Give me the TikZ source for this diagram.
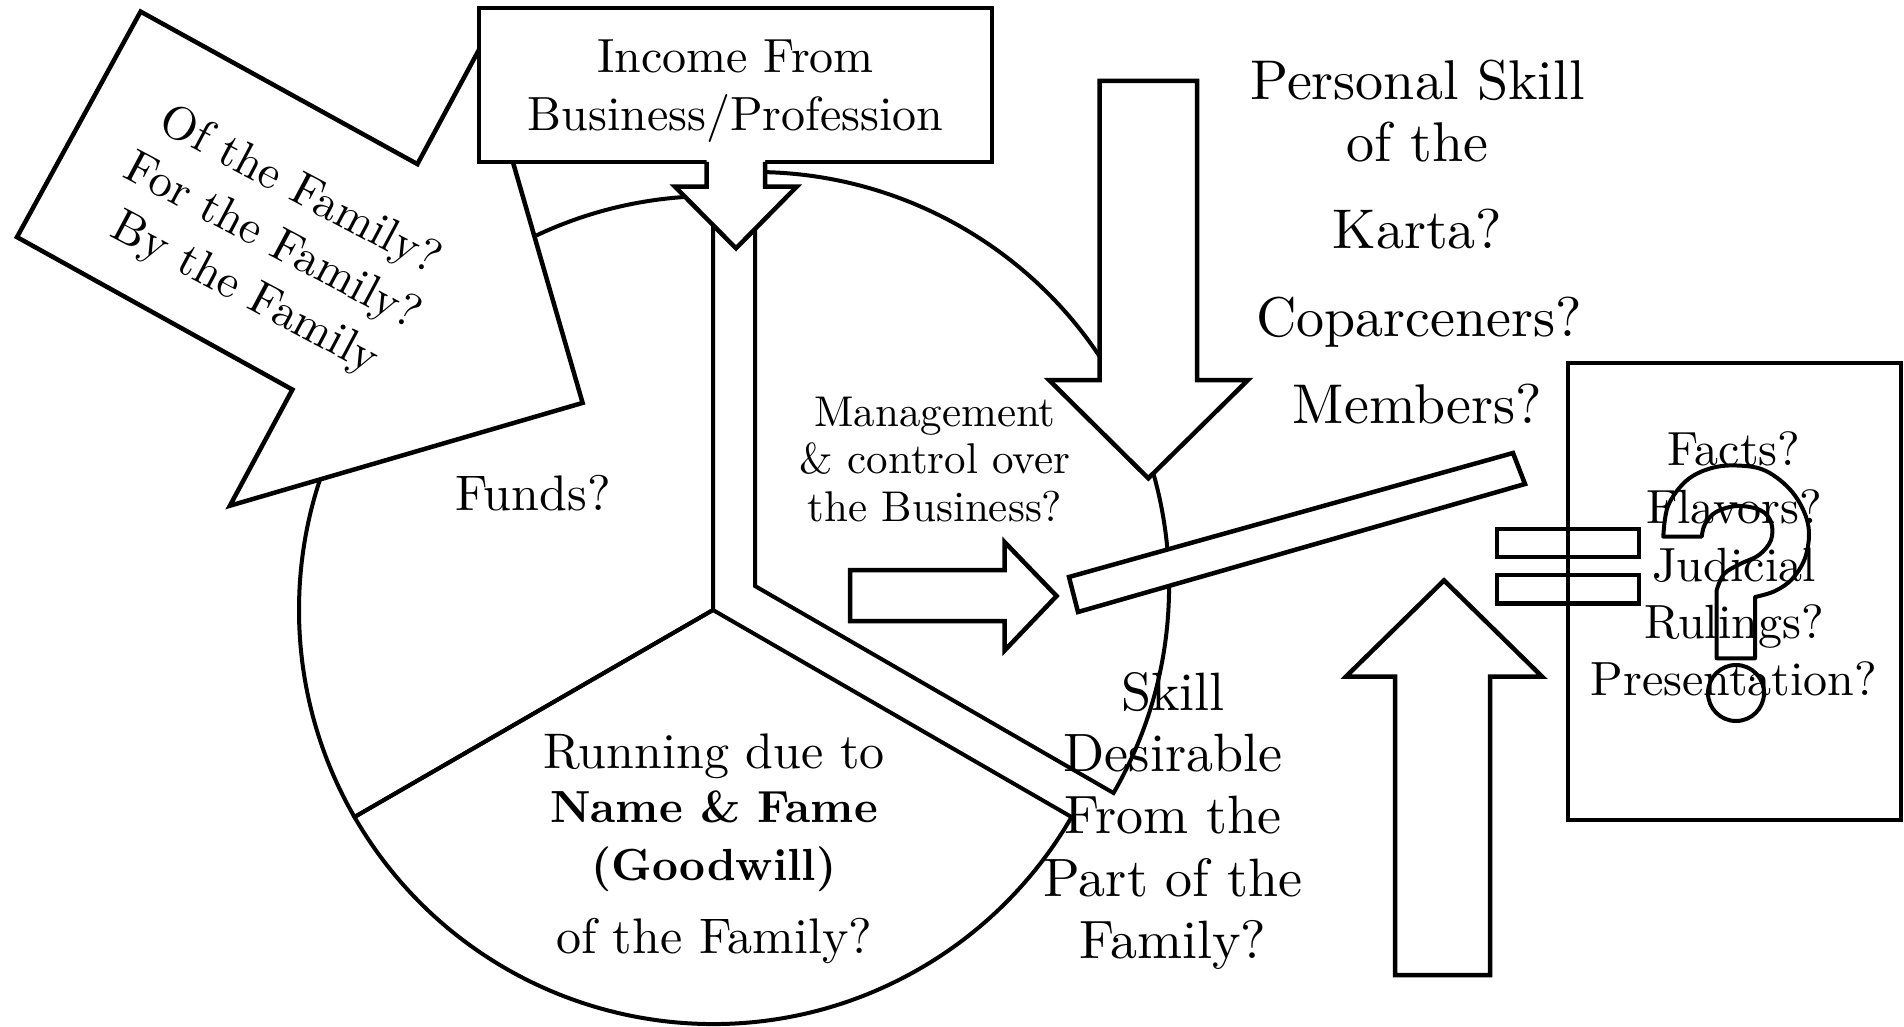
\documentclass[tikz,border=0pt]{standalone}
\usepackage{fontspec}
\setmainfont{lmroman10-regular.otf}[BoldFont=lmroman10-bold.otf, ItalicFont=lmroman10-italic.otf, BoldItalicFont=lmroman10-bolditalic.otf]
\newcommand{\myfs}[1]{\fontsize{#1}{#1}\selectfont}
\tikzset{
  ln/.style={line width=4.5pt, line join=miter, miter limit=10},
  pieln/.style={line width=4pt, line join=miter},
  wf/.style={ln, fill=white},
  txt/.style={inner sep=0pt, anchor=base},
}
\begin{document}
\begin{tikzpicture}[x=1pt,y=-1pt]
\useasboundingbox (0,0) rectangle (1904,1027);

% ---- pie (exploded upper-right slice)
\coordinate (pc) at (713,610);
\coordinate (pe) at (755,586);
\draw[pieln] (pc) -- ++(0,-414) arc[start angle=-90, end angle=-210, radius=414] -- cycle;
\draw[pieln] (pc) -- ++(-358.53,207) arc[start angle=150, end angle=30, radius=414] -- cycle;
\draw[pieln] (pe) -- ++(358.53,207) arc[start angle=30, end angle=-90, radius=414] -- cycle;

% ---- left block arrow
\filldraw[wf] (140.6,11.6) -- (417.4,164.1) -- (479.9,48) -- (582.6,402.9)
  -- (229.9,505.7) -- (292.4,389.6) -- (17,237.1) -- cycle;

% ---- income box and its arrow
\draw[wf] (479,8) rectangle (992,162);
\fill[white] (706.7,158) -- (706.7,186.7) -- (675,186.7) -- (736,248.3) -- (796.7,186.7) -- (765,186.7) -- (765,158) -- cycle;
\draw[ln] (706.7,162) -- (706.7,186.7) -- (675,186.7) -- (736,248.3) -- (796.7,186.7) -- (765,186.7) -- (765,162);

% ---- personal skill down arrow
\filldraw[wf] (1099.5,81) -- (1197,81) -- (1197,380) -- (1248,380) -- (1148.3,478.3)
  -- (1049,380) -- (1099.5,380) -- cycle;

% ---- right arrow
\filldraw[wf] (850,570) -- (1004.5,570) -- (1004.5,542) -- (1056.6,596) -- (1004.5,650.6)
  -- (1004.5,621) -- (850,621) -- cycle;

% ---- tilted bar
\filldraw[wf] (1069,577) -- (1513,453) -- (1525,484) -- (1078,612) -- cycle;

% ---- up arrow
\filldraw[wf] (1395,975) -- (1395,676.5) -- (1346,676.5) -- (1444,580.4) -- (1542,676.5)
  -- (1490,676.5) -- (1490,975) -- cycle;

% ---- equals sign
\draw[ln] (1497,529) rectangle (1639,557);
\draw[ln] (1497,575) rectangle (1639,603.5);

% ---- right box
\draw[ln] (1568,363) rectangle (1901,820);

% ---- outlined question mark
\draw[pieln, line join=round] (1701.7,536.7) -- (1663.3,536.7)
  -- plot[smooth, tension=0.6] coordinates {(1663.3,536.7) (1668,506) (1686,481) (1710,468.5) (1737,465.5) (1766,471) (1793,493) (1808,524) (1806,555) (1793,578) (1775,591) (1755,597)}
  -- (1755,658.3) -- (1716.7,658.3) -- (1716.7,590)
  -- plot[smooth, tension=0.6] coordinates {(1716.7,590) (1724,574) (1740,564) (1759,555) (1771,540) (1771,522) (1760,510) (1737,506) (1716,512) (1705,524) (1701.7,536.7)}
  -- cycle;
\draw[pieln] (1736,693) circle[radius=28];

% ---- texts
\node[txt, font=\myfs{48}] (inc1) at (735.5,73) {Income From};
\node[txt, font=\myfs{48}] (inc2) at (735.5,131) {Business/Profession};

\node[rotate=-28, align=center, inner sep=0pt, font={\fontsize{47}{58}\selectfont}] (fam) at (272,243)
  {Of the Family?\\For the Family?\\By the Family};

\node[txt, font=\myfs{50}] (funds) at (533,510) {Funds?};

\node[txt, font=\myfs{43}] (mg1) at (935,426.7) {Management};
\node[txt, font=\myfs{43}] (mg2) at (935,473) {\& control over};
\node[txt, font=\myfs{43}] (mg3) at (935,521) {the Business?};

\node[txt, font=\myfs{50}] (run1) at (714,768) {Running due to};
\node[txt, font=\myfs{45}\bfseries] (run2) at (714,822) {Name \& Fame};
\node[txt, font=\myfs{45}\bfseries] (run3) at (714,880) {(Goodwill)};
\node[txt, font=\myfs{50}] (run4) at (714,953) {of the Family?};

\node[txt, font=\myfs{54}] (sk1) at (1173,710) {Skill};
\node[txt, font=\myfs{54}] (sk2) at (1173,771.7) {Desirable};
\node[txt, font=\myfs{54}] (sk3) at (1173,833.3) {From the};
\node[txt, font=\myfs{54}] (sk4) at (1173,896.7) {Part of the};
\node[txt, font=\myfs{54}] (sk5) at (1173,958.3) {Family?};

\node[txt, font=\myfs{56}] (ps1) at (1417.5,100) {Personal Skill};
\node[txt, font=\myfs{56}] (ps2) at (1417.5,161.7) {of the};
\node[txt, font=\myfs{56}] (ps3) at (1417.5,248) {Karta?};
\node[txt, font=\myfs{56}] (ps4) at (1419,336.7) {Coparceners?};
\node[txt, font=\myfs{56}] (ps5) at (1417.5,423) {Members?};

\node[txt, font=\myfs{48}] (f1) at (1734,465) {Facts?};
\node[txt, font=\myfs{48}] (f2) at (1734,523.3) {Flavors?};
\node[txt, font=\myfs{48}] (f3) at (1734,581.7) {Judicial};
\node[txt, font=\myfs{48}] (f4) at (1734,638.3) {Rulings?};
\node[txt, font=\myfs{48}] (f5) at (1734,695) {Presentation?};
\end{tikzpicture}
\end{document}
